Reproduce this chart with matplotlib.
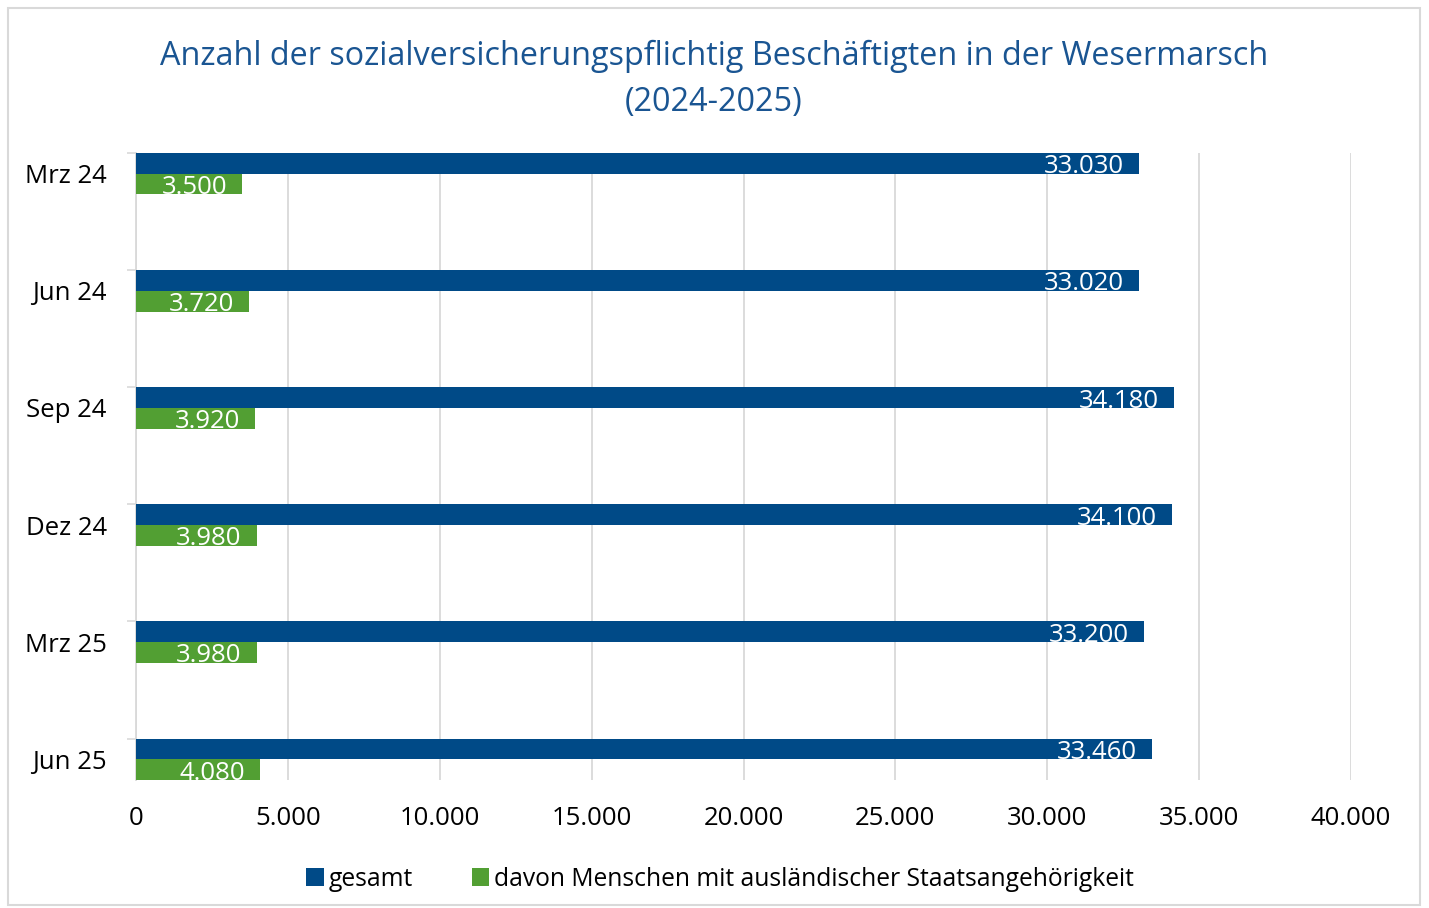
import numpy as np
import matplotlib
matplotlib.use("Agg")
import matplotlib.pyplot as plt
from matplotlib.patches import Rectangle

plt.rcParams['font.family'] = ['Open Sans', 'DejaVu Sans']

# quarterly counts, Wesermarsch
quarters = ["Mrz 24", "Jun 24", "Sep 24", "Dez 24", "Mrz 25", "Jun 25"]
gesamt = [33030, 33020, 34180, 34100, 33200, 33460]
auslaendisch = [3500, 3720, 3920, 3980, 3980, 4080]
series_names = ["gesamt", "davon Menschen mit ausländischer Staatsangehörigkeit"]
x_ticks = [0, 5000, 10000, 15000, 20000, 25000, 30000, 35000, 40000]

blue = "#004a87"
green = "#529f33"
grid_col = "#d9d9d9"
title_col = "#1a5592"


def de_fmt(v):
    # thousands separator as dot
    return f"{v:,.0f}".replace(",", ".")


W, H = 1429, 908
fig = plt.figure(figsize=(W / 100, H / 100), dpi=100)
ax = fig.add_axes([136 / W, 1 - 780 / H, 1215 / W, 627 / H])

h = 0.177
pos = np.arange(len(quarters))
bars1 = ax.barh(pos - h / 2, gesamt, height=h, color=blue, zorder=3, label=series_names[0])
bars2 = ax.barh(pos + h / 2, auslaendisch, height=h, color=green, zorder=3, label=series_names[1])

# value labels inside bar ends, clipped to the bar
for bars, vals, yoff in ((bars1, gesamt, -h / 2), (bars2, auslaendisch, h / 2)):
    for b, v, p in zip(bars, vals, pos):
        t = ax.annotate(de_fmt(v), xy=(v, p + yoff + h / 2), xytext=(-11, 0.3),
                        textcoords="offset points", ha="right", va="baseline",
                        color="white", fontsize=18.5, zorder=4)
        t.set_clip_path(b)

ax.set_xlim(0, 40000)
ax.set_ylim(len(quarters) - 1 + h, -h)
ax.set_xticks(x_ticks)
ax.set_xticklabels([de_fmt(v) for v in x_ticks])
ax.set_yticks(pos)
ax.set_yticklabels(quarters)
ax.set_yticks(pos - h, minor=True)
ax.tick_params(axis="x", length=0, pad=19, labelsize=18.5, colors="black")
ax.tick_params(axis="y", which="major", length=0, pad=21, labelsize=18.5, colors="black")
ax.tick_params(axis="y", which="minor", length=6.5, width=1.2, color=grid_col)

ax.grid(axis="x", color=grid_col, linewidth=1.3, zorder=0)
for s in ("top", "right", "bottom"):
    ax.spines[s].set_visible(False)
ax.spines["left"].set_color(grid_col)
ax.spines["left"].set_linewidth(1.3)

fig.text(714 / W, 1 - 56 / H, "Anzahl der sozialversicherungspflichtig Beschäftigten in der Wesermarsch",
         ha="center", va="center", fontsize=23.3, color=title_col)
fig.text(714 / W, 1 - 102 / H, "(2024-2025)", ha="center", va="center", fontsize=23.3, color=title_col)

fig.legend(handles=[bars1, bars2], loc="center", bbox_to_anchor=(720 / W, 1 - 879 / H),
           ncol=2, frameon=False, fontsize=17.7, handlelength=0.72, handleheight=0.72,
           handletextpad=0.2, columnspacing=2.4, borderaxespad=0)

fig.patches.append(Rectangle((8 / W, 1 - 905 / H), 1412 / W, 897 / H, transform=fig.transFigure,
                             fill=False, edgecolor=grid_col, linewidth=1.5))

fig.savefig("out.png", dpi=100)
